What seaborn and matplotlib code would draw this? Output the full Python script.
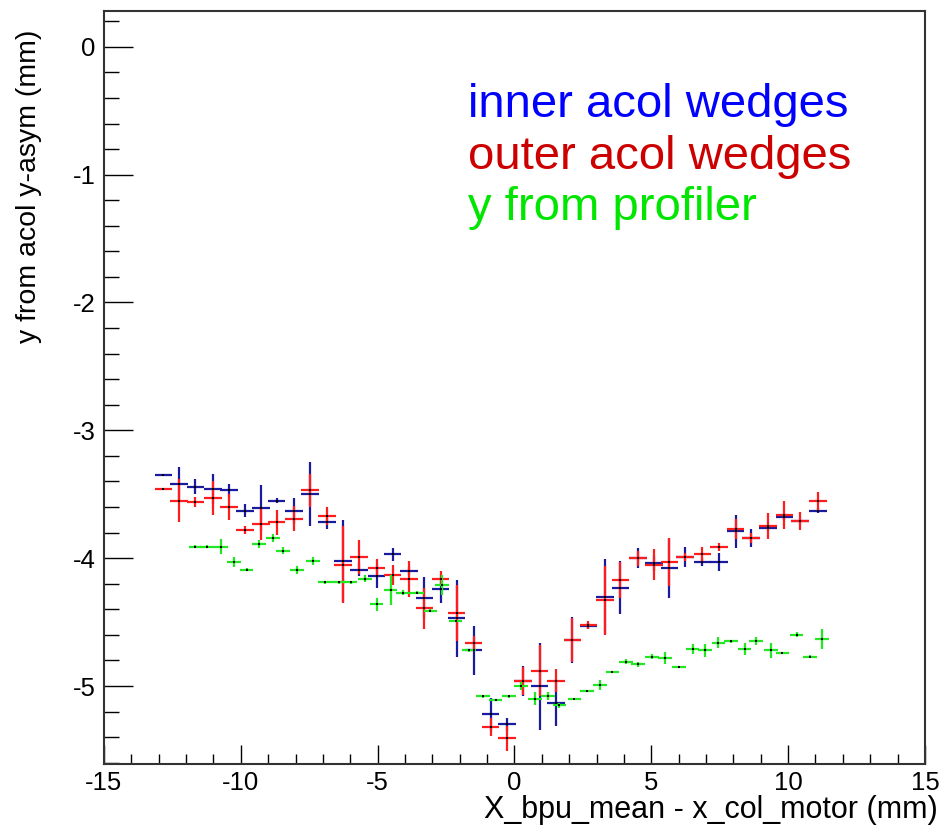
import numpy as np
import pandas as pd
import matplotlib
matplotlib.use("Agg")
import matplotlib.pyplot as plt
from matplotlib.ticker import MultipleLocator
import seaborn as sns

# --- data ---

# inner / outer acol wedges share the same x bins
x_acol = [-12.83, -12.25, -11.66, -11.02, -10.44, -9.85, -9.27, -8.69, -8.06, -7.48,
          -6.86, -6.27, -5.68, -5.04, -4.45, -3.86, -3.29, -2.70, -2.11, -1.49,
          -0.87, -0.27, 0.31, 0.92, 1.52, 2.12, 2.70, 3.30, 3.87, 4.51,
          5.09, 5.66, 6.24, 6.87, 7.48, 8.08, 8.65, 9.26, 9.86, 10.43, 11.10]
xerr_acol = 0.32

y_inner = [-3.35, -3.42, -3.44, -3.46, -3.47, -3.63, -3.61, -3.55, -3.63, -3.50,
           -3.72, -4.02, -4.09, -4.14, -3.97, -4.10, -4.31, -4.24, -4.47, -4.72,
           -5.22, -5.30, -4.96, -5.00, -5.13, -4.64, -4.53, -4.30, -4.23, -4.00,
           -4.04, -4.08, -3.99, -4.03, -4.03, -3.79, -3.84, -3.76, -3.68, -3.71, -3.63]
yerr_inner = [0.01, 0.13, 0.06, 0.12, 0.05, 0.05, 0.18, 0.02, 0.10, 0.25,
              0.055, 0.32, 0.05, 0.09, 0.05, 0.03, 0.16, 0.11, 0.30, 0.19,
              0.13, 0.05, 0.12, 0.34, 0.18, 0.18, 0.02, 0.29, 0.21, 0.08,
              0.06, 0.23, 0.08, 0.03, 0.07, 0.13, 0.07, 0.02, 0.02, 0.02, 0.02]

y_outer = [-3.46, -3.55, -3.56, -3.53, -3.60, -3.78, -3.73, -3.72, -3.69, -3.47,
           -3.67, -4.05, -3.99, -4.08, -4.13, -4.16, -4.39, -4.16, -4.43, -4.66,
           -5.32, -5.41, -4.96, -4.88, -4.96, -4.64, -4.52, -4.33, -4.17, -4.00,
           -4.05, -4.03, -3.99, -3.97, -3.91, -3.77, -3.84, -3.75, -3.66, -3.71, -3.55]
yerr_outer = [0.01, 0.17, 0.04, 0.13, 0.10, 0.03, 0.13, 0.10, 0.10, 0.13,
              0.07, 0.30, 0.13, 0.07, 0.08, 0.14, 0.16, 0.06, 0.22, 0.05,
              0.07, 0.10, 0.11, 0.20, 0.09, 0.17, 0.03, 0.27, 0.14, 0.06,
              0.12, 0.19, 0.03, 0.06, 0.03, 0.08, 0.04, 0.10, 0.11, 0.07, 0.07]

# profiler
x_prof = [-11.66, -11.24, -10.72, -10.26, -9.79, -9.33, -8.82, -8.45, -7.94, -7.36,
          -6.93, -6.41, -5.99, -5.46, -5.04, -4.53, -4.07, -3.55, -3.07, -2.64,
          -2.15, -1.67, -1.16, -0.69, -0.21, 0.25, 0.74, 1.22, 1.64, 2.19,
          2.64, 3.12, 3.58, 4.08, 4.52, 5.02, 5.49, 6.01, 6.51, 6.96,
          7.45, 7.91, 8.41, 8.82, 9.37, 9.79, 10.31, 10.79, 11.25]
xerr_prof = 0.25
y_prof = [-3.91, -3.91, -3.91, -4.03, -4.09, -3.89, -3.84, -3.94, -4.09, -4.02,
          -4.19, -4.19, -4.19, -4.16, -4.36, -4.25, -4.27, -4.27, -4.41, -4.21,
          -4.49, -4.72, -5.08, -5.11, -5.08, -5.00, -5.10, -5.08, -5.15, -5.10,
          -5.04, -4.99, -4.89, -4.81, -4.83, -4.77, -4.78, -4.85, -4.71, -4.72,
          -4.66, -4.65, -4.71, -4.65, -4.72, -4.74, -4.60, -4.77, -4.63]
yerr_prof = [0.01, 0.01, 0.06, 0.04, 0.01, 0.03, 0.03, 0.03, 0.03, 0.03,
             0.01, 0.01, 0.01, 0.03, 0.05, 0.12, 0.02, 0.01, 0.01, 0.08,
             0.01, 0.01, 0.01, 0.01, 0.01, 0.03, 0.05, 0.03, 0.02, 0.01,
             0.01, 0.04, 0.01, 0.02, 0.02, 0.02, 0.05, 0.01, 0.04, 0.05,
             0.04, 0.01, 0.05, 0.03, 0.06, 0.01, 0.02, 0.01, 0.08]

labels = ["inner acol wedges", "outer acol wedges", "y from profiler"]
label_colors = ["#0000ff", "#cc0000", "#00e600"]
bar_colors = ["#1a1a9e", "#ff1c1c", "#22e822"]

# --- style ---
sns.set_style("white")
plt.rcParams["font.family"] = ["Liberation Sans", "DejaVu Sans"]
plt.rcParams["axes.unicode_minus"] = False
plt.rcParams["text.color"] = "black"
plt.rcParams["axes.labelcolor"] = "black"

fig = plt.figure(figsize=(9.42, 8.33), dpi=100)
ax = fig.add_axes([0.1104, 0.0828, 0.8715, 0.904])

series = [
    (x_acol, y_inner, xerr_acol, yerr_inner),
    (x_acol, y_outer, xerr_acol, yerr_outer),
    (x_prof, y_prof, xerr_prof, yerr_prof),
]
for (xs, ys, xe, ye), col in zip(series, bar_colors):
    ax.errorbar(xs, ys, xerr=xe, yerr=ye, fmt="none", ecolor=col,
                elinewidth=1.6, capsize=0, zorder=2)

# small black centre markers
centres = pd.DataFrame({
    "x": x_acol + x_acol + x_prof,
    "y": y_inner + y_outer + y_prof,
})
sns.scatterplot(data=centres, x="x", y="y", ax=ax, color="black", marker="s",
                s=2.5, linewidth=0, zorder=3, legend=False)

ax.set_xlim(-15, 15)
ax.set_ylim(-5.61, 0.28)
ax.xaxis.set_major_locator(MultipleLocator(5))
ax.xaxis.set_minor_locator(MultipleLocator(1))
ax.yaxis.set_major_locator(MultipleLocator(1))
ax.yaxis.set_minor_locator(MultipleLocator(0.2))

ax.tick_params(axis="x", which="major", direction="in", length=14, width=1,
               color="black", labelcolor="black", labelsize=18.5, pad=5,
               bottom=True, top=False)
ax.tick_params(axis="x", which="minor", direction="in", length=7, width=1,
               color="black", bottom=True, top=False)
ax.tick_params(axis="y", which="major", direction="in", length=21, width=1,
               color="black", labelcolor="black", labelsize=18.5, pad=6,
               left=True, right=False)
ax.tick_params(axis="y", which="minor", direction="in", length=11, width=1,
               color="black", left=True, right=False)

for sp in ax.spines.values():
    sp.set_color("#333333")
    sp.set_linewidth(1.5)

ax.set_xlabel("X_bpu_mean - x_col_motor (mm)", fontsize=22, ha="right",
              x=1.015, labelpad=0)
ax.set_ylabel("y from acol y-asym (mm)", fontsize=20.5, ha="right",
              y=0.975, labelpad=22)

for i, (lab, col) in enumerate(zip(labels, label_colors)):
    ax.text(0.443, 0.859 - i * 0.0685, lab, color=col, fontsize=34,
            transform=ax.transAxes, va="baseline", ha="left")

fig.savefig("out.png", dpi=100)
